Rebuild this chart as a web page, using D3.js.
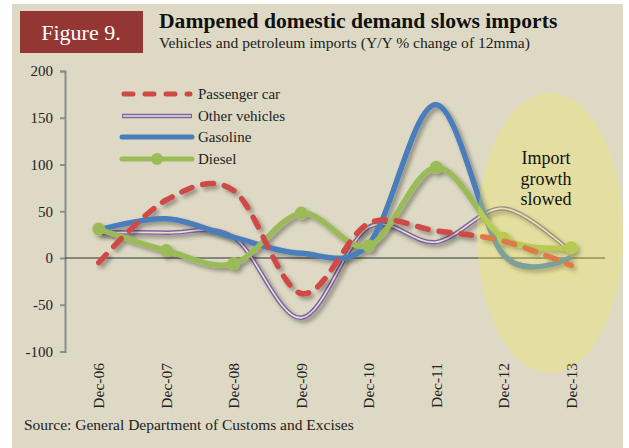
<!DOCTYPE html>
<html>
<head>
<meta charset="utf-8">
<script src="https://cdn.jsdelivr.net/npm/d3@7"></script>
<style>
  body { margin: 0; background: #fff; }
  text { font-family: "Liberation Serif", "DejaVu Serif", serif; }
</style>
</head>
<body>
<svg id="chart" width="629" height="448"></svg>
<script>
var categories = ["Dec-06", "Dec-07", "Dec-08", "Dec-09", "Dec-10", "Dec-11", "Dec-12", "Dec-13"];
var passengerCar = [-5, 62, 72, -38, 37, 29, 18, -8];
var otherVehicles = [27, 27, 22, -64, 33, 17, 53, 6];
var gasoline = [30, 42, 22, 5, 15, 164, 3, 1];
var diesel = [31, 8, -6, 48, 13, 97, 21, 11];
var yTicks = [-100, -50, 0, 50, 100, 150, 200];
var seriesNames = ["Passenger car", "Other vehicles", "Gasoline", "Diesel"];

var svg = d3.select("#chart");
var bg = "#ddd9c4";

svg.append("rect").attr("x", 12).attr("y", 4).attr("width", 611).attr("height", 444).attr("fill", bg);

// header
svg.append("rect").attr("x", 20).attr("y", 11).attr("width", 123).attr("height", 42).attr("fill", "#943634");
svg.append("text").attr("x", 81).attr("y", 40).attr("text-anchor", "middle")
  .attr("fill", "#fff").style("font-size", "22px").text("Figure 9.");
svg.append("text").attr("x", 159).attr("y", 28).attr("fill", "#111")
  .style("font-size", "21.6px").style("font-weight", "bold").text("Dampened domestic demand slows imports");
svg.append("text").attr("x", 159).attr("y", 48).attr("fill", "#222")
  .style("font-size", "15.6px").text("Vehicles and petroleum imports (Y/Y % change of 12mma)");

var defs = svg.append("defs");
var f = defs.append("filter").attr("id", "shadow").attr("x", "-10%").attr("y", "-10%").attr("width", "120%").attr("height", "130%");
f.append("feDropShadow").attr("dx", 3).attr("dy", 3).attr("stdDeviation", 2)
  .attr("flood-color", "#000").attr("flood-opacity", 0.35);

var x = d3.scalePoint().domain(categories).range([65, 605]).padding(0.5);
var y = d3.scaleLinear().domain([-100, 200]).range([351.5, 71]);

// y axis
var yAxis = svg.append("g").attr("transform", "translate(65,0)")
  .call(d3.axisLeft(y).tickValues(yTicks).tickSize(5).tickPadding(7)
    .tickFormat(function(d) { return String(d); }));
yAxis.select(".domain").attr("stroke", "#8c8c8c").attr("stroke-width", 2);
yAxis.selectAll(".tick line").attr("stroke", "#8c8c8c").attr("stroke-width", 2);
yAxis.selectAll("text").attr("fill", "#222").style("font-size", "15px")
  .style("font-family", "Liberation Serif, serif");

// zero line
svg.append("line").attr("x1", 65).attr("x2", 605).attr("y1", y(0)).attr("y2", y(0))
  .attr("stroke", "#333").attr("stroke-width", 1);

// x labels
var xAxis = svg.append("g").attr("transform", "translate(0,360)")
  .call(d3.axisBottom(x).tickSize(0).tickPadding(0));
xAxis.select(".domain").remove();
xAxis.selectAll("text")
  .attr("transform", "rotate(-90)")
  .attr("x", -3).attr("y", 5).attr("dy", "0")
  .attr("text-anchor", "end")
  .attr("fill", "#222").style("font-size", "15.5px")
  .style("font-family", "Liberation Serif, serif");

var line = d3.line()
  .x(function(d, i) { return x(categories[i]); })
  .y(function(d) { return y(d); })
  .curve(d3.curveCatmullRom.alpha(0));

var lines = svg.append("g").attr("filter", "url(#shadow)");

lines.append("path").datum(otherVehicles).attr("d", line)
  .attr("fill", "none").attr("stroke", "#8064a2").attr("stroke-width", 4.5);
svg.append("path").datum(otherVehicles).attr("d", line)
  .attr("fill", "none").attr("stroke", "#e6e1d4").attr("stroke-width", 1.6);

var lines2 = svg.append("g").attr("filter", "url(#shadow)");
lines2.append("path").datum(gasoline).attr("d", line)
  .attr("fill", "none").attr("stroke", "#4a7ebb").attr("stroke-width", 5.5);
lines2.append("path").datum(diesel).attr("d", line)
  .attr("fill", "none").attr("stroke", "#9bbb59").attr("stroke-width", 5.5);
lines2.selectAll("circle").data(diesel).enter().append("circle")
  .attr("cx", function(d, i) { return x(categories[i]); })
  .attr("cy", function(d) { return y(d); })
  .attr("r", 6.5).attr("fill", "#9bbb59");
lines2.append("path").datum(passengerCar).attr("d", line)
  .attr("fill", "none").attr("stroke", "#cf4a46").attr("stroke-width", 5.5)
  .attr("stroke-dasharray", "11,11").attr("stroke-linecap", "round");

// highlight ellipse
svg.append("ellipse").attr("cx", 550).attr("cy", 233).attr("rx", 73).attr("ry", 140)
  .attr("fill", "#f5f04b").attr("fill-opacity", 0.3);
svg.append("text").attr("text-anchor", "middle").attr("fill", "#111").style("font-size", "18px")
  .selectAll("tspan").data(["Import", "growth", "slowed"]).enter().append("tspan")
  .attr("x", 546).attr("y", function(d, i) { return 164 + i * 20.5; }).text(function(d) { return d; });

// legend
var legend = svg.append("g");
var ly = [94, 116, 137, 159];
legend.append("line").attr("x1", 124).attr("x2", 190).attr("y1", ly[0]).attr("y2", ly[0])
  .attr("stroke", "#cf4a46").attr("stroke-width", 5).attr("stroke-dasharray", "9,12").attr("stroke-linecap", "round");
legend.append("line").attr("x1", 122).attr("x2", 192).attr("y1", ly[1]).attr("y2", ly[1])
  .attr("stroke", "#8064a2").attr("stroke-width", 4.5);
legend.append("line").attr("x1", 123).attr("x2", 191).attr("y1", ly[1]).attr("y2", ly[1])
  .attr("stroke", "#e6e1d4").attr("stroke-width", 1.6);
legend.append("line").attr("x1", 122).attr("x2", 192).attr("y1", ly[2]).attr("y2", ly[2])
  .attr("stroke", "#4a7ebb").attr("stroke-width", 5).attr("stroke-linecap", "round");
legend.append("line").attr("x1", 122).attr("x2", 192).attr("y1", ly[3]).attr("y2", ly[3])
  .attr("stroke", "#9bbb59").attr("stroke-width", 5).attr("stroke-linecap", "round");
legend.append("circle").attr("cx", 157).attr("cy", ly[3]).attr("r", 6).attr("fill", "#9bbb59");
legend.selectAll("text").data(seriesNames).enter().append("text")
  .attr("x", 198).attr("y", function(d, i) { return ly[i] + 5; })
  .attr("fill", "#222").style("font-size", "15px").text(function(d) { return d; });

svg.append("text").attr("x", 24).attr("y", 430).attr("fill", "#222")
  .style("font-size", "15.5px").text("Source: General Department of Customs and Excises");
</script>
</body>
</html>
